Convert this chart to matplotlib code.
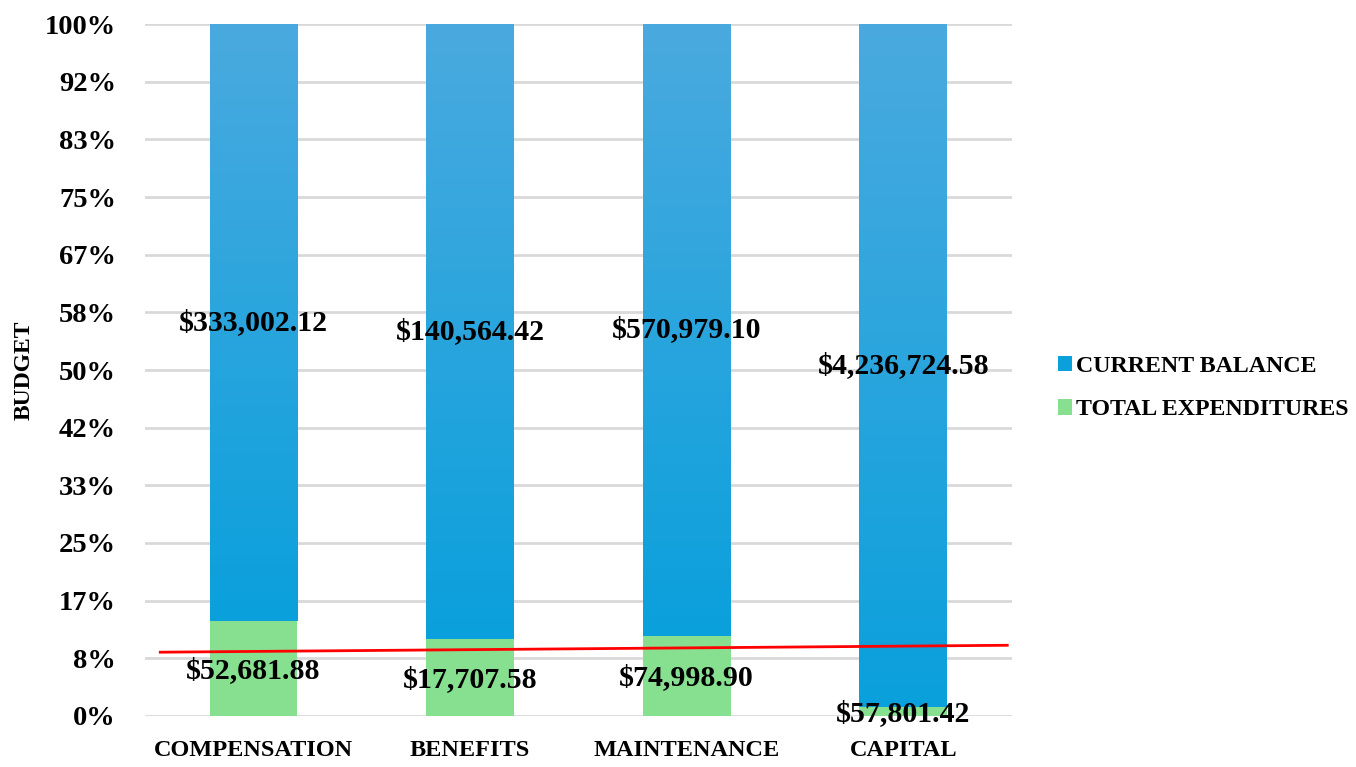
import matplotlib
matplotlib.use("Agg")
import matplotlib.pyplot as plt
import numpy as np
from matplotlib.colors import LinearSegmentedColormap
from matplotlib.patches import Patch

categories = ["COMPENSATION", "BENEFITS", "MAINTENANCE", "CAPITAL"]
current_balance = [333002.12, 140564.42, 570979.10, 4236724.58]
total_expenditures = [52681.88, 17707.58, 74998.90, 57801.42]
series_names = ["CURRENT BALANCE", "TOTAL EXPENDITURES"]
trend_x = [-0.43, 3.48]
trend_y = [0.0922, 0.1022]
ytick_labels = ["0%", "8%", "17%", "25%", "33%", "42%", "50%", "58%", "67%", "75%", "83%", "92%", "100%"]

FONT = "Liberation Serif"
blue_top = "#4aaadf"
blue_bot = "#0aa0dc"
green = "#86e08f"

fig = plt.figure(figsize=(13.56, 7.67), dpi=100)
ax = fig.add_axes([0.107, 0.0665, 0.639, 0.9022])

tot = np.array(current_balance) + np.array(total_expenditures)
exp_frac = np.array(total_expenditures) / tot
bal_frac = np.array(current_balance) / tot
x = np.arange(len(categories))
w = 0.405

ax.bar(x, exp_frac, w, color=green, zorder=2)
bars = ax.bar(x, bal_frac, w, bottom=exp_frac, color="none", zorder=2)
cmap = LinearSegmentedColormap.from_list("b", [blue_bot, blue_top])
grad = np.linspace(0, 1, 256).reshape(-1, 1)
for b in bars:
    x0, y0 = b.get_x(), b.get_y()
    im = ax.imshow(grad, cmap=cmap, origin="lower", aspect="auto",
                   extent=[x0, x0 + b.get_width(), y0, y0 + b.get_height()], zorder=2)
    im.set_clip_path(b)

for i in range(len(categories)):
    ax.text(x[i], exp_frac[i] / 2 - 0.003, f"${total_expenditures[i]:,.2f}", ha="center", va="center",
            fontsize=21.5, fontweight="bold", family=FONT, zorder=4)
    ax.text(x[i], exp_frac[i] + bal_frac[i] / 2, f"${current_balance[i]:,.2f}", ha="center", va="center",
            fontsize=21.5, fontweight="bold", family=FONT, zorder=4)

ax.plot(trend_x, trend_y, color="#ff0000", lw=2, zorder=3)

ax.set_xlim(-0.5, 3.5)
ax.set_ylim(0, 1)
ax.set_yticks(np.arange(13) / 12)
ax.set_yticklabels(ytick_labels)
ax.set_xticks(x)
ax.set_xticklabels(categories)
for lab in ax.get_yticklabels():
    lab.set_fontfamily(FONT)
    lab.set_fontweight("bold")
    lab.set_fontsize(20.5)
for lab in ax.get_xticklabels():
    lab.set_fontfamily(FONT)
    lab.set_fontweight("bold")
    lab.set_fontsize(17.5)
ax.tick_params(axis="y", length=0, pad=21)
ax.tick_params(axis="x", length=0, pad=17)
ax.grid(axis="y", color="#d9d9d9", lw=2, zorder=0)
ax.set_axisbelow(True)
for s in ax.spines.values():
    s.set_visible(False)
ax.set_ylabel("BUDGET", fontfamily=FONT, fontweight="bold", fontsize=17, labelpad=7)

handles = [Patch(facecolor=blue_bot, edgecolor="none"), Patch(facecolor=green, edgecolor="none")]
leg = fig.legend(handles, series_names, loc="center left", bbox_to_anchor=(0.780, 0.494),
                 frameon=False, borderpad=0, borderaxespad=0, handlelength=0.58, handleheight=0.6,
                 handletextpad=0.18, labelspacing=0.95,
                 prop={"family": FONT, "weight": "bold", "size": 17.2})

fig.savefig("out.png", dpi=100)
